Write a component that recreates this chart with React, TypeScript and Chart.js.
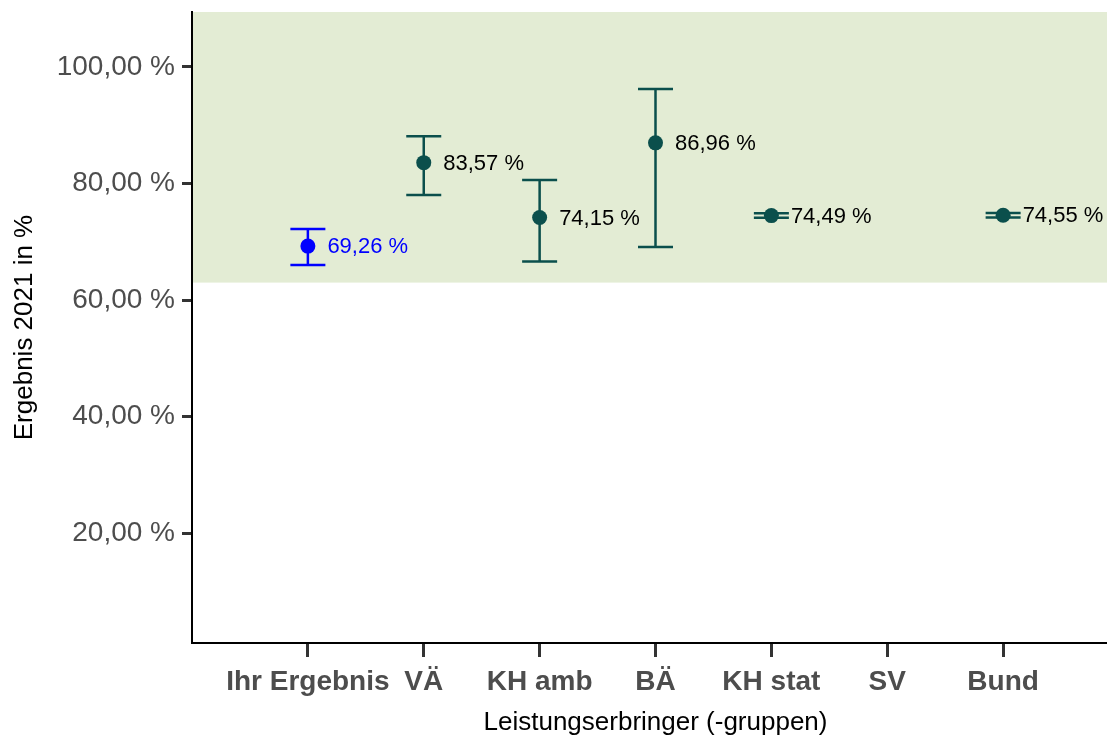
import React, { useEffect, useRef } from "react";
import { Chart, registerables } from "chart.js";

Chart.register(...registerables);

const categories = ["Ihr Ergebnis", "VÄ", "KH amb", "BÄ", "KH stat", "SV", "Bund"];
const values: (number | null)[] = [69.26, 83.57, 74.15, 86.96, 74.49, null, 74.55];
const lowerCI: (number | null)[] = [66.0, 78.0, 66.6, 69.1, 74.1, null, 74.15];
const upperCI: (number | null)[] = [72.2, 88.1, 80.6, 96.2, 74.9, null, 74.95];
const valueLabels = ["69,26 %", "83,57 %", "74,15 %", "86,96 %", "74,49 %", "", "74,55 %"];
const yTicks = [20, 40, 60, 80, 100];
const referenceMin = 63;

const OWN_COLOR = "#0000ff";
const GROUP_COLOR = "#0b4f4c";
const BAND_COLOR = "#e3ecd4";
const FONT = "'Liberation Sans', Arial, Helvetica, sans-serif";

const fmt = (v: number) => v.toFixed(2).replace(".", ",") + " %";

export default function App() {
  const ref = useRef<HTMLCanvasElement | null>(null);

  useEffect(() => {
    if (!ref.current) return;
    const colors = categories.map((_, i) => (i === 0 ? OWN_COLOR : GROUP_COLOR));
    const points = values
      .map((v, i) => (v === null ? null : { x: i + 1, y: v }))
      .filter((p) => p !== null) as { x: number; y: number }[];
    const pointColors = values
      .map((v, i) => (v === null ? null : colors[i]))
      .filter((c) => c !== null) as string[];

    const bandPlugin = {
      id: "band",
      beforeDraw(chart: any) {
        const { ctx, chartArea, scales } = chart;
        const y = scales.y;
        const top = chartArea.top;
        const bottom = y.getPixelForValue(referenceMin);
        ctx.save();
        ctx.fillStyle = BAND_COLOR;
        ctx.fillRect(chartArea.left, top, chartArea.right - chartArea.left, bottom - top);
        ctx.restore();
      },
    };

    const errorPlugin = {
      id: "errorbars",
      beforeDatasetsDraw(chart: any) {
        const { ctx, scales } = chart;
        const xs = scales.x;
        const ys = scales.y;
        ctx.save();
        ctx.lineWidth = 2.5;
        values.forEach((v, i) => {
          const lo = lowerCI[i];
          const hi = upperCI[i];
          if (v === null || lo === null || hi === null) return;
          const px = xs.getPixelForValue(i + 1);
          const pLo = ys.getPixelForValue(lo);
          const pHi = ys.getPixelForValue(hi);
          const half = 17.5;
          ctx.strokeStyle = colors[i];
          ctx.beginPath();
          ctx.moveTo(px, pLo);
          ctx.lineTo(px, pHi);
          ctx.moveTo(px - half, pLo);
          ctx.lineTo(px + half, pLo);
          ctx.moveTo(px - half, pHi);
          ctx.lineTo(px + half, pHi);
          ctx.stroke();
        });
        ctx.restore();
      },
      afterDatasetsDraw(chart: any) {
        const { ctx, scales } = chart;
        const xs = scales.x;
        const ys = scales.y;
        ctx.save();
        ctx.font = `22px ${FONT}`;
        ctx.textAlign = "left";
        ctx.textBaseline = "middle";
        values.forEach((v, i) => {
          if (v === null) return;
          const px = xs.getPixelForValue(i + 1);
          const py = ys.getPixelForValue(v);
          ctx.fillStyle = i === 0 ? OWN_COLOR : "#000000";
          ctx.fillText(valueLabels[i], px + 19.5, py + 1);
        });
        ctx.restore();
      },
    };

    const chart = new Chart(ref.current, {
      type: "scatter",
      data: {
        datasets: [
          {
            data: points,
            pointBackgroundColor: pointColors,
            pointBorderWidth: 0,
            pointRadius: 7.5,
            pointHoverRadius: 7.5,
            showLine: false,
            clip: false,
          },
        ],
      },
      options: {
        animation: false,
        responsive: false,
        events: [],
        layout: { autoPadding: false, padding: { top: 12, right: 0, left: 0, bottom: 0 } },
        plugins: {
          legend: { display: false },
          tooltip: { enabled: false },
        },
        scales: {
          x: {
            type: "linear",
            min: 0,
            max: 8,
            afterBuildTicks: (scale: any) => {
              scale.ticks = categories.map((_, i) => ({ value: i + 1 }));
            },
            afterFit: (scale: any) => {
              scale.height = 97;
              scale.paddingLeft = 0;
              scale.paddingRight = 0;
              scale.paddingTop = 0;
              scale.paddingBottom = 0;
            },
            ticks: {
              autoSkip: false,
              maxRotation: 0,
              padding: 8,
              color: "#4d4d4d",
              font: { family: FONT, size: 28, weight: "bold" },
              callback: (v: any) => categories[Math.round(Number(v)) - 1] ?? "",
            },
            grid: {
              display: true,
              drawOnChartArea: false,
              drawTicks: true,
              tickLength: 14,
              tickWidth: 3,
              tickColor: "#333333",
            },
            border: { display: true, color: "#000000", width: 2 },
            title: {
              display: true,
              text: "Leistungserbringer (-gruppen)",
              color: "#000000",
              font: { family: FONT, size: 26 },
              padding: { top: 0, bottom: 2 },
            },
          },
          y: {
            type: "linear",
            min: 1.2,
            max: 109.4,
            afterBuildTicks: (scale: any) => {
              scale.ticks = yTicks.map((v) => ({ value: v }));
            },
            afterFit: (scale: any) => {
              scale.width = 192;
              scale.paddingTop = 0;
              scale.paddingBottom = 0;
              scale.paddingLeft = 0;
              scale.paddingRight = 0;
            },
            ticks: {
              padding: 7,
              color: "#4d4d4d",
              font: { family: FONT, size: 28 },
              callback: (v: any) => fmt(Number(v)),
            },
            grid: {
              display: true,
              drawOnChartArea: false,
              drawTicks: true,
              tickLength: 10,
              tickWidth: 3,
              tickColor: "#333333",
            },
            border: { display: true, color: "#000000", width: 2 },
            title: {
              display: true,
              text: "Ergebnis 2021 in %",
              color: "#000000",
              font: { family: FONT, size: 26 },
              padding: { top: 9, bottom: 0 },
            },
          },
        },
      },
      plugins: [bandPlugin, errorPlugin],
    } as any);

    return () => chart.destroy();
  }, []);

  return (
    <div style={{ position: "fixed", left: 0, top: 0, width: 1107, height: 740, overflow: "hidden", background: "#ffffff" }}>
      <canvas ref={ref} width={1119} height={740} style={{ width: 1119, height: 740, display: "block" }} />
    </div>
  );
}
